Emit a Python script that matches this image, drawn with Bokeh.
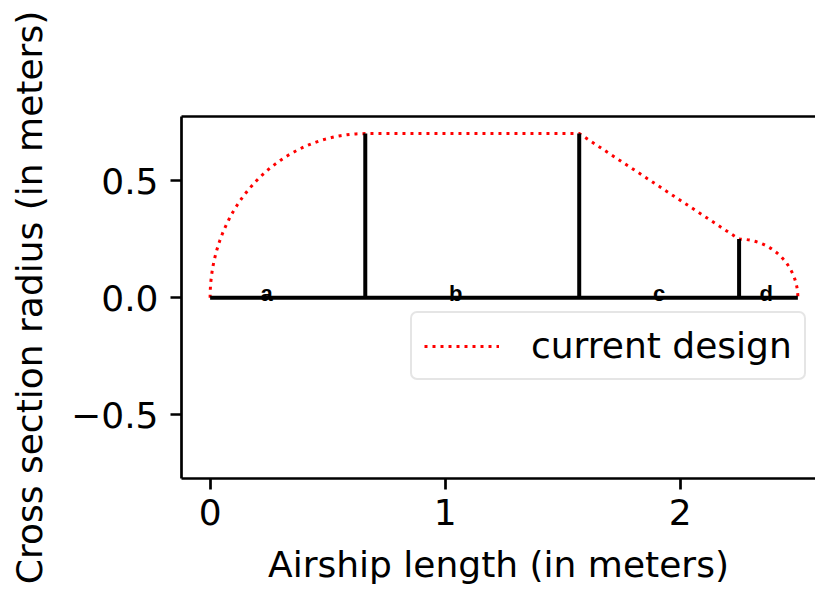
import numpy as np
from bokeh.plotting import figure
from bokeh.models import Range1d, LinearAxis, FixedTicker, Legend, LegendItem, ColumnDataSource
from bokeh.core.properties import value
from bokeh.embed import file_html
from bokeh.resources import INLINE

# Airship envelope design (meters)
seg_names = ["a", "b", "c", "d"]
seg_lengths = [0.66, 0.91, 0.68, 0.25]   # nose, body, taper, tail
max_radius = 0.70
tail_radius = 0.25
seg_label_x = [0.24, 1.045, 1.91, 2.365]
seg_label_y = [0.017, 0.017, 0.017, 0.017]

x_ticks = [0, 1, 2]
y_ticks = [-0.5, 0.0, 0.5]
y_tick_labels = ["\u22120.5", "0.0", "0.5"]

FONT = "DejaVu Sans"
FS = "36px"

# section boundaries along the hull
bounds = np.concatenate([[0.0], np.cumsum(seg_lengths)])
x0, x1, x2, x3, x4 = bounds

# nose: quarter ellipse, body: constant radius, taper: straight cone, tail: quarter ellipse
t_nose = np.linspace(np.pi, np.pi / 2, 80)
nose_x = x1 + seg_lengths[0] * np.cos(t_nose)
nose_y = max_radius * np.sin(t_nose)
t_tail = np.linspace(np.pi / 2, 0, 50)
tail_x = x3 + seg_lengths[3] * np.cos(t_tail)
tail_y = tail_radius * np.sin(t_tail)

profile_x = np.concatenate([nose_x, [x2, x3], tail_x])
profile_y = np.concatenate([nose_y, [max_radius, tail_radius], tail_y])

p = figure(
    width=815, height=592,
    x_range=Range1d(-0.1217, 2.575), y_range=Range1d(-0.771, 0.773),
    output_backend="svg", toolbar_location=None,
    min_border_left=181, min_border_right=0, min_border_top=116, min_border_bottom=114,
)
p.outline_line_color = None
p.grid.visible = False
p.background_fill_color = "white"
p.border_fill_color = "white"

xax = p.below[0]
yax = p.left[0]
for ax in (xax, yax):
    ax.axis_line_width = 2.7
    ax.axis_line_color = "black"
    ax.major_tick_line_width = 2.7
    ax.major_tick_line_color = "black"
    ax.major_tick_out = 11
    ax.major_tick_in = 0
    ax.minor_tick_line_color = None
    ax.major_label_text_font = FONT
    ax.major_label_text_font_size = FS
    ax.major_label_text_color = "black"
    ax.axis_label_text_font = FONT
    ax.axis_label_text_font_size = FS
    ax.axis_label_text_font_style = "normal"
    ax.axis_label_text_color = "black"

xax.ticker = FixedTicker(ticks=x_ticks)
xax.axis_label = "Airship length (in meters)"
xax.major_label_standoff = 9
xax.axis_label_standoff = 16

yax.ticker = FixedTicker(ticks=y_ticks)
yax.major_label_overrides = {k: v for k, v in zip(y_ticks, y_tick_labels)}
yax.axis_label = "Cross section radius (in meters)"
yax.major_label_standoff = 12
yax.axis_label_standoff = 18

# top frame edge
top = LinearAxis(ticker=FixedTicker(ticks=[]), axis_line_width=2.7, axis_line_color="black",
                 major_tick_line_color=None, minor_tick_line_color=None,
                 major_label_text_font_size="0px")
p.add_layout(top, "above")

# outer profile
r = p.line(profile_x, profile_y, line_color="red", line_width=3, line_dash="3 5")

# centre line and section dividers
p.segment(x0=[x0], y0=[0.0], x1=[x4], y1=[0.0], line_color="black", line_width=4)
div_src = ColumnDataSource(dict(x=[x1, x2, x3], h=[max_radius, max_radius, tail_radius]))
p.segment(x0="x", y0=0.0, x1="x", y1="h", source=div_src, line_color="black", line_width=4)

# section names
p.text(x=seg_label_x, y=seg_label_y, text=seg_names, text_font=value("Liberation Sans"),
       text_font_size="22px", text_font_style="bold", text_align="center",
       text_baseline="alphabetic", text_color="black")

legend = Legend(items=[LegendItem(label="current design", renderers=[r])],
                location=(229, 98), margin=0, padding=12, spacing=0,
                glyph_width=75, glyph_height=40, label_standoff=32,
                label_text_font=FONT, label_text_font_size=FS, label_text_color="black",
                border_line_color="#cccccc", border_line_width=2.7,
                background_fill_color="white", background_fill_alpha=0.8)
if "border_radius" in Legend.properties():
    legend.border_radius = 7
p.add_layout(legend)

open("out.html", "w").write(file_html(p, INLINE))
